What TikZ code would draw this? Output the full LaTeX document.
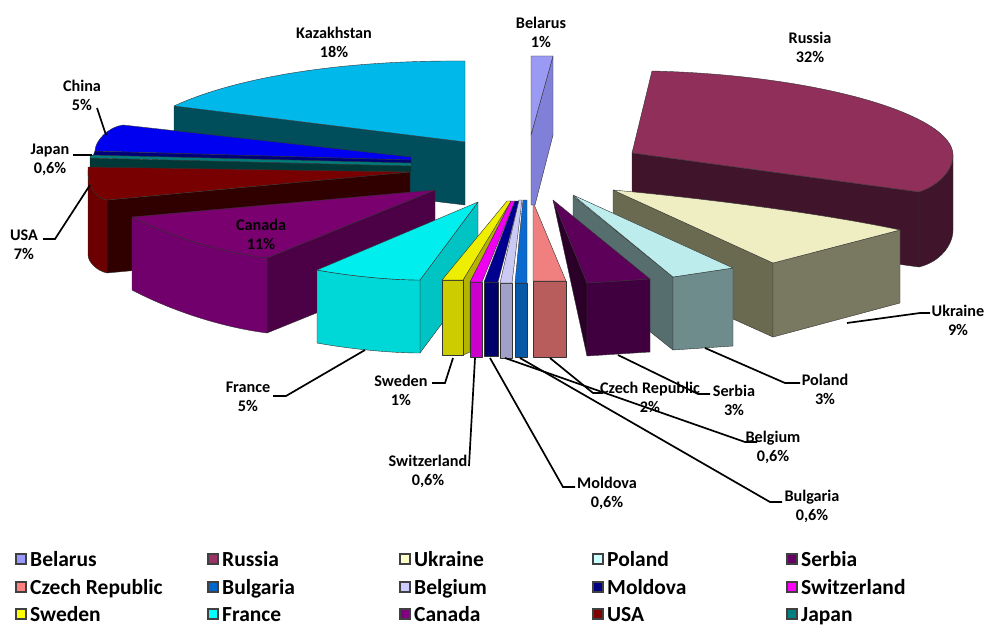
\documentclass[tikz,border=0pt]{standalone}
\usepackage{fontspec}
\setmainfont{Carlito}
\newcommand\lblfont{\fontsize{16.2}{19}\selectfont\bfseries}
\newcommand\legfont{\fontsize{21.5}{24}\selectfont\bfseries}
% chart face colours
\definecolor{kazT}{HTML}{00B8EA}\definecolor{kazF}{HTML}{004D5C}
\definecolor{chiT}{HTML}{0000F0}\definecolor{chiS}{HTML}{000078}
\definecolor{japT}{HTML}{007A7A}\definecolor{japS}{HTML}{003838}
\definecolor{usaT}{HTML}{780000}\definecolor{usaF}{HTML}{6C0000}\definecolor{usaS}{HTML}{300000}
\definecolor{canT}{HTML}{7A0070}\definecolor{canF}{HTML}{72006C}\definecolor{canS}{HTML}{4C0046}
\definecolor{frT}{HTML}{00EEEE}\definecolor{frF}{HTML}{00D8D8}\definecolor{frS}{HTML}{00C4C4}
\definecolor{swT}{HTML}{EEEE00}\definecolor{swF}{HTML}{CCCC00}\definecolor{swS}{HTML}{B4B400}
\definecolor{szT}{HTML}{F000F0}\definecolor{szF}{HTML}{CC00CC}
\definecolor{moT}{HTML}{000090}\definecolor{moF}{HTML}{00006C}
\definecolor{beT}{HTML}{CACAF5}\definecolor{beF}{HTML}{A0A0C8}
\definecolor{buT}{HTML}{0A6AD0}\definecolor{buF}{HTML}{0858A8}
\definecolor{czT}{HTML}{F08080}\definecolor{czF}{HTML}{B85C5C}
\definecolor{seT}{HTML}{5C005A}\definecolor{seL}{HTML}{2A0028}\definecolor{seF}{HTML}{400040}
\definecolor{poT}{HTML}{BCECEC}\definecolor{poS}{HTML}{566E6E}\definecolor{poF}{HTML}{6E8C8C}
\definecolor{ukT}{HTML}{EEEEC2}\definecolor{ukS}{HTML}{6A6A50}
\definecolor{ruT}{HTML}{8F2F5A}\definecolor{ruS}{HTML}{40142A}
\definecolor{blT}{HTML}{9A9AF5}\definecolor{blS}{HTML}{8080D8}
% legend colours
\definecolor{lgBel}{HTML}{9999FF}\definecolor{lgRus}{HTML}{993366}
\definecolor{lgUkr}{HTML}{FFFFCC}\definecolor{lgPol}{HTML}{CCFFFF}
\definecolor{lgSer}{HTML}{660066}\definecolor{lgCze}{HTML}{FF8080}
\definecolor{lgBul}{HTML}{0066CC}\definecolor{lgBelg}{HTML}{CCCCFF}
\definecolor{lgMol}{HTML}{000080}\definecolor{lgSwi}{HTML}{FF00FF}
\definecolor{lgSwe}{HTML}{FFFF00}\definecolor{lgFra}{HTML}{00FFFF}
\definecolor{lgCan}{HTML}{800080}\definecolor{lgUSA}{HTML}{800000}
\definecolor{lgJap}{HTML}{008080}
\tikzset{
  face/.style={draw=black!80, line width=0.4pt, line join=round},
  lbl/.style={font=\lblfont, align=center, inner sep=0pt},
  lead/.style={draw=black, line width=1.7pt, line join=miter},
  legsq/.style={draw=black!75, line width=1.4pt, minimum size=10pt, inner sep=0pt},
  legtx/.style={font=\legfont, anchor=base west, inner sep=0pt}
}
\newcommand\legitem[5]{%
  \node[legsq, fill=#4] (#1sq) at (#2,#3) {};
  \node[legtx] (#1tx) at (#2+9,#3+7.5) {#5};}
\begin{document}
\begin{tikzpicture}[x=1pt,y=-1pt]
\useasboundingbox (0,0) rectangle (987,626);

% ---------- Kazakhstan ----------
\filldraw[face, fill=kazF] (174,106) -- (465,142) -- (465,205) -- (174,170) -- cycle;
\filldraw[face, fill=kazT] (174,106) .. controls (230,80) and (330,60) .. (465,61) -- (465,142) -- cycle;
% ---------- China ----------
\filldraw[face, fill=chiS] (95,151) -- (411,160) -- (411,164) -- (93,156) -- cycle;
\filldraw[face, fill=chiT] (95,151) .. controls (95,141) and (108,127) .. (123,125) -- (411,157) -- (411,160) -- cycle;
% ---------- Japan ----------
\filldraw[face, fill=japS] (90,158) -- (411,166) -- (411,172) -- (90,168) -- cycle;
\filldraw[face, fill=japT] (90,155) -- (411,163) -- (411,166) -- (90,158) -- cycle;
% ---------- USA ----------
\filldraw[face, fill=usaS] (107,200) -- (410,172) -- (410,245) -- (107,273) -- cycle;
\filldraw[face, fill=usaF] (88,170) .. controls (88,188) and (97,198) .. (107,200) -- (107,273) .. controls (97,271) and (88,262) .. (88,255) -- cycle;
\filldraw[face, fill=usaT] (88,167) -- (410,172) -- (107,200) .. controls (97,198) and (88,188) .. (88,172) -- cycle;
% ---------- Canada ----------
\filldraw[face, fill=canS] (267,258) -- (435,190) -- (435,265) -- (267,333) -- cycle;
\filldraw[face, fill=canF] (132,217) .. controls (170,236) and (220,252) .. (267,258) -- (267,333) .. controls (220,327) and (170,310) .. (132,290) -- cycle;
\filldraw[face, fill=canT] (132,217) -- (435,190) -- (267,258) .. controls (220,252) and (170,236) .. (132,217) -- cycle;
% ---------- France ----------
\filldraw[face, fill=frS] (420,280) -- (478,202) -- (478,275) -- (420,353) -- cycle;
\filldraw[face, fill=frF] (317,270) .. controls (350,276) and (390,280) .. (420,280) -- (420,353) .. controls (390,353) and (350,349) .. (317,343) -- cycle;
\filldraw[face, fill=frT] (317,270) -- (478,202) -- (420,280) .. controls (390,280) and (350,276) .. (317,270) -- cycle;
% ---------- Sweden ----------
\filldraw[face, fill=swS] (463,280) -- (509,201) -- (513,202) -- (470,282) -- (470,352) -- (463,355) -- cycle;
\filldraw[face, fill=swF] (442,280) -- (463,280) -- (463,355) -- (442,355) -- cycle;
\filldraw[face, fill=swT] (442,280) -- (507,201) -- (511,201) -- (463,280) -- cycle;
% ---------- Switzerland ----------
\filldraw[face, fill=szF] (470,282) -- (482,282) -- (482,357) -- (470,357) -- cycle;
\filldraw[face, fill=szT] (470,282) -- (511,201) -- (515,201) -- (482,282) -- cycle;
% ---------- Moldova ----------
\filldraw[face, fill=moF] (484,282) -- (498,282) -- (498,356) -- (484,356) -- cycle;
\filldraw[face, fill=moT] (484,282) -- (515,201) -- (519,201) -- (498,282) -- cycle;
% ---------- Belgium ----------
\filldraw[face, fill=beF] (500,283) -- (512,283) -- (512,358) -- (500,358) -- cycle;
\filldraw[face, fill=beT] (500,283) -- (519,200) -- (522,200) -- (512,283) -- cycle;
% ---------- Bulgaria ----------
\filldraw[face, fill=buF] (515,283) -- (527,283) -- (527,357) -- (515,357) -- cycle;
\filldraw[face, fill=buT] (515,283) -- (523,200) -- (527,200) -- (527,283) -- cycle;
% ---------- Russia ----------
\filldraw[face, fill=ruS] (632,153) -- (919,192) -- (919,267) -- (632,228) -- cycle;
\filldraw[face, fill=ruS] (919,192) .. controls (940,185) and (953,170) .. (953,155) -- (953,230) .. controls (953,245) and (940,262) .. (919,267) -- cycle;
\filldraw[face, fill=ruT] (652,71) .. controls (820,75) and (953,115) .. (953,155) .. controls (953,170) and (940,185) .. (919,192) -- (632,153) -- cycle;
% ---------- Ukraine ----------
\filldraw[face, fill=ukS] (613,190) -- (773,263) -- (773,337) -- (613,265) -- cycle;
\filldraw[face, fill=ukS!90!white] (773,263) -- (900,230) -- (900,303) -- (773,337) -- cycle;
\filldraw[face, fill=ukT] (613,190) .. controls (700,198) and (820,213) .. (900,230) -- (773,263) -- cycle;
% ---------- Poland ----------
\filldraw[face, fill=poS] (573,196) -- (673,277) -- (673,350) -- (573,270) -- cycle;
\filldraw[face, fill=poF] (673,277) -- (733,268) -- (733,346) -- (673,350) -- cycle;
\filldraw[face, fill=poT] (573,195) -- (733,268) -- (673,277) -- cycle;
% ---------- Serbia ----------
\filldraw[face, fill=seL] (553,200) -- (587,283) -- (587,356) -- cycle;
\filldraw[face, fill=seF] (587,283) -- (650,279) -- (650,352) -- (587,356) -- cycle;
\filldraw[face, fill=seT] (553,200) -- (650,279) -- (587,283) -- cycle;
% ---------- Czech Republic ----------
\filldraw[face, fill=czF] (533,281) -- (566,281) -- (566,357) -- (533,357) -- cycle;
\filldraw[face, fill=czT] (533,202) -- (566,281) -- (533,281) -- cycle;
% ---------- Belarus ----------
\filldraw[face, fill=blS] (553,56) -- (553,135) -- (535,205) -- (531,205) -- (531,135) -- cycle;
\filldraw[face, fill=blT] (531,56) -- (553,56) -- (531,135) -- cycle;

% ---------- labels ----------
\node[lbl] (tBelarus) at (541,32) {Belarus\\1\%};
\node[lbl] (tRussia) at (810,47) {Russia\\32\%};
\node[lbl] (tKaz) at (334,42) {Kazakhstan\\18\%};
\node[lbl] (tChina) at (82,95) {China\\5\%};
\node[lbl] (tJapan) at (50,160) {Japan\\0,6\%};
\node[lbl] (tUSA) at (24,245) {USA\\7\%};
\node[lbl] (tCanada) at (261,234) {Canada\\11\%};
\node[lbl] (tFrance) at (248,397) {France\\5\%};
\node[lbl] (tSweden) at (401,390) {Sweden\\1\%};
\node[lbl] (tSwitz) at (428,471) {Switzerland\\0,6\%};
\node[lbl] (tMoldova) at (607,493) {Moldova\\0,6\%};
\node[lbl] (tBulgaria) at (812,506) {Bulgaria\\0,6\%};
\node[lbl] (tBelgium) at (773,447) {Belgium\\0,6\%};
\node[lbl] (tCzech) at (650,397) {Czech Republic\\2\%};
\node[lbl] (tSerbia) at (734,400) {Serbia\\3\%};
\node[lbl] (tPoland) at (825,389) {Poland\\3\%};
\node[lbl] (tUkraine) at (958,320) {Ukraine\\9\%};

% ---------- leader coordinates ----------
\coordinate (eChina) at (97,108);   \coordinate (pChina) at (106,135);
\coordinate (eJapan) at (73,155);   \coordinate (pJapan) at (92,155);
\coordinate (eUSA) at (43,239);     \coordinate (kUSA) at (55,239);     \coordinate (pUSA) at (90,185);
\coordinate (eFrance) at (273,396); \coordinate (kFrance) at (286,396); \coordinate (pFrance) at (365,350);
\coordinate (eSweden) at (432,383); \coordinate (kSweden) at (445,383); \coordinate (pSweden) at (453,358);
\coordinate (eSwitz) at (469,466);  \coordinate (pSwitz) at (475,358);
\coordinate (eMoldova) at (575,487);\coordinate (kMoldova) at (563,487);\coordinate (pMoldova) at (490,358);
\coordinate (eBelgium) at (757,442);\coordinate (kBelgium) at (745,442);\coordinate (pBelgium) at (505,358);
\coordinate (eBulg) at (782,502);   \coordinate (kBulg) at (770,502);   \coordinate (pBulg) at (520,358);
\coordinate (eCzech) at (603,393);  \coordinate (kCzech) at (593,393);  \coordinate (pCzech) at (550,358);
\coordinate (eSerbia) at (710,394); \coordinate (kSerbia) at (698,394); \coordinate (pSerbia) at (618,355);
\coordinate (ePoland) at (800,383); \coordinate (kPoland) at (785,383); \coordinate (pPoland) at (705,348);
\coordinate (eUkr) at (930,313);    \coordinate (kUkr) at (920,313);    \coordinate (pUkr) at (847,323);

\draw[lead] (eChina) -- (pChina);
\draw[lead] (eJapan) -- (pJapan);
\draw[lead] (eUSA) -- (kUSA) -- (pUSA);
\draw[lead] (eFrance) -- (kFrance) -- (pFrance);
\draw[lead] (eSweden) -- (kSweden) -- (pSweden);
\draw[lead] (eSwitz) -- (pSwitz);
\draw[lead] (eMoldova) -- (kMoldova) -- (pMoldova);
\draw[lead] (eBelgium) -- (kBelgium) -- (pBelgium);
\draw[lead] (eBulg) -- (kBulg) -- (pBulg);
\draw[lead] (eCzech) -- (kCzech) -- (pCzech);
\draw[lead] (eSerbia) -- (kSerbia) -- (pSerbia);
\draw[lead] (ePoland) -- (kPoland) -- (pPoland);
\draw[lead] (eUkr) -- (kUkr) -- (pUkr);

% ---------- legend ----------
\legitem{lBel}{21}{559}{lgBel}{Belarus}
\legitem{lRus}{213}{559}{lgRus}{Russia}
\legitem{lUkr}{405}{559}{lgUkr}{Ukraine}
\legitem{lPol}{598}{559}{lgPol}{Poland}
\legitem{lSer}{792}{559}{lgSer}{Serbia}
\legitem{lCze}{21}{587}{lgCze}{Czech Republic}
\legitem{lBul}{213}{587}{lgBul}{Bulgaria}
\legitem{lBelg}{405}{587}{lgBelg}{Belgium}
\legitem{lMol}{598}{587}{lgMol}{Moldova}
\legitem{lSwi}{792}{587}{lgSwi}{Switzerland}
\legitem{lSwe}{21}{614}{lgSwe}{Sweden}
\legitem{lFra}{213}{614}{lgFra}{France}
\legitem{lCan}{405}{614}{lgCan}{Canada}
\legitem{lUSA}{598}{614}{lgUSA}{USA}
\legitem{lJap}{792}{614}{lgJap}{Japan}
\end{tikzpicture}
\end{document}
